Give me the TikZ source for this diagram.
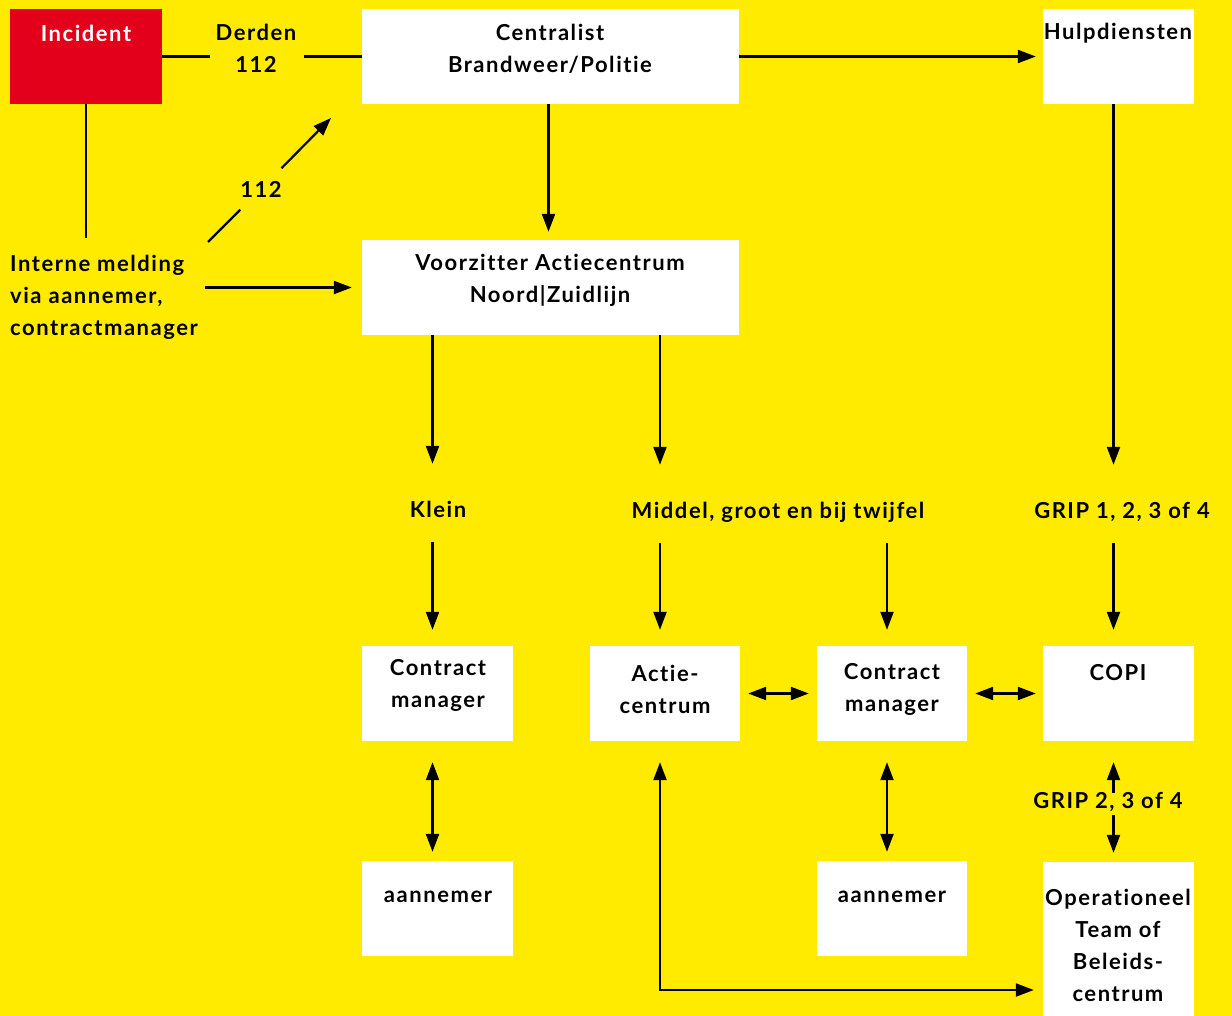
\documentclass[tikz,border=0pt]{standalone}
\usepackage{fontspec}
\setmainfont{Lato}[LetterSpace=7, Ligatures=NoCommon]
\usetikzlibrary{arrows.meta}
\definecolor{geel}{RGB}{255,235,0}
\definecolor{rood}{RGB}{226,0,26}

\begin{document}
\begin{tikzpicture}[x=1pt, y=-1pt, font=\fontsize{22}{32}\selectfont\bfseries,
    vak/.style={fill=white, inner sep=0pt, minimum width=151pt, minimum height=95pt},
    breed/.style={vak, minimum width=377pt},
    tekst/.style={inner sep=0pt, align=center},
    kop/.style={tekst, text height=15pt, text depth=5pt},
    lijn/.style={line width=2.2pt},
    pijl/.style={lijn, -{Triangle[length=18pt,width=13pt]}},
    dubbel/.style={lijn, {Triangle[length=18pt,width=13pt]}-{Triangle[length=18pt,width=13pt]}}]

    % Achtergrond
    \fill[geel] (0,0) rectangle (1232,1016);
    \useasboundingbox (0,0) rectangle (1232,1016);

    % Vakken
    \node[vak, fill=rood, minimum width=152pt] (inc) at (86,56.5) {};
    \node[breed] (cent) at (550.5,56.5) {};
    \node[vak] (hulp) at (1118.5,56.5) {};
    \node[breed] (vz) at (550.5,287.5) {};
    \node[vak] (cmA) at (437.5,693.5) {};
    \node[vak, minimum width=150pt] (ac) at (665,693.5) {};
    \node[vak, minimum width=150pt] (cmB) at (892,693.5) {};
    \node[vak] (copi) at (1118.5,693.5) {};
    \node[vak] (aanA) at (437.5,908.5) {};
    \node[vak, minimum width=150pt] (aanB) at (892,908.5) {};
    \node[vak, minimum height=154pt] (ot) at (1118.5,939) {};

    % Teksten
    \node[tekst, text=white] (incT) at (86,33) {Incident};
    \node[tekst] (derden) at (256,48) {Derden\\112};
    \node[tekst] (centT) at (550,49) {Centralist\\Brandweer/Politie};
    \node[tekst] (hulpT) at (1118,33) {Hulpdiensten};
    \node[tekst, circle, minimum size=58pt] (n112) at (261,189) {112};
    \node[tekst, align=left, anchor=west] (interne) at (10,297) {Interne melding\\via aannemer,\\contractmanager};
    \node[tekst] (vzT) at (550,280) {Voorzitter Actiecentrum\\Noord|Zuidlijn};
    \node[kop] (klein) at (438,512) {Klein};
    \node[kop] (middel) at (778,513) {Middel, groot en bij twijfel};
    \node[kop] (grip) at (1122,513) {GRIP 1, 2, 3 of 4};
    \node[tekst] (cmAT) at (438,685) {Contract\\manager};
    \node[tekst] (acT) at (665,689) {Actie-\\centrum};
    \node[tekst] (cmBT) at (892,689) {Contract\\manager};
    \node[tekst] (copiT) at (1118,673) {COPI};
    \node[kop] (grip2) at (1108,803) {GRIP 2, 3 of 4};
    \node[tekst] (aanAT) at (438,897) {aannemer};
    \node[tekst] (aanBT) at (892,897) {aannemer};
    \node[tekst] (otT) at (1118,945) {Operationeel\\Team of\\Beleids-\\centrum};

    % Melding
    \draw[lijn, shorten >=6pt] (inc.east) -- (inc.east -| derden.west);
    \draw[lijn, shorten <=8pt] (derden.east |- cent.west) -- (cent.west);
    \draw[pijl, shorten >=7pt] (cent.east) -- (hulp.west);
    \draw[pijl, shorten >=8pt] ([xshift=-2pt]cent.south) -- ([xshift=-2pt]vz.north);
    \draw[lijn, shorten >=17pt] (inc.south) -- (inc.south |- interne.north);
    \coordinate (d0) at (208,242);
    \coordinate (d1) at (331,118);
    \draw[lijn] (d0) -- (n112);
    \draw[pijl] (n112) -- (d1);
    \draw[pijl, shorten <=7pt, shorten >=10pt] (interne.east |- vz.west) -- (vz.west);

    % Opschaling
    \draw[pijl, shorten >=38pt] ([xshift=-5pt]vz.south -| cmA) -- ([xshift=-5pt]cmA |- klein.north);
    \draw[pijl, shorten >=38pt] ([xshift=-5pt]vz.south -| ac) -- ([xshift=-5pt]ac |- middel.north);
    \draw[pijl, shorten >=38pt] ([xshift=-5pt]hulp.south) -- ([xshift=-5pt]hulp.south |- grip.north);
    \draw[pijl, shorten <=20pt, shorten >=16pt] ([xshift=-5pt]cmA |- klein.south) -- ([xshift=-5pt]cmA.north);
    \draw[pijl, shorten <=20pt, shorten >=16pt] ([xshift=-5pt]ac |- middel.south) -- ([xshift=-5pt]ac.north);
    \draw[pijl, shorten <=20pt, shorten >=16pt] ([xshift=-5pt]cmB |- middel.south) -- ([xshift=-5pt]cmB.north);
    \draw[pijl, shorten <=20pt, shorten >=16pt] ([xshift=-5pt]copi |- grip.south) -- ([xshift=-5pt]copi.north);

    % Onderling contact
    \draw[dubbel, shorten <=8pt, shorten >=8pt] (ac.east) -- (cmB.west);
    \draw[dubbel, shorten <=8pt, shorten >=7pt] (cmB.east) -- (copi.west);
    \draw[dubbel, shorten <=21pt, shorten >=9pt] ([xshift=-5pt]cmA.south) -- ([xshift=-5pt]aanA.north);
    \draw[dubbel, shorten <=21pt, shorten >=9pt] ([xshift=-5pt]cmB.south) -- ([xshift=-5pt]aanB.north);
    \draw[pijl, shorten >=21pt] ([xshift=-5pt]copi |- grip2.north) -- ([xshift=-5pt]copi.south);
    \draw[pijl, shorten <=2pt, shorten >=9pt] ([xshift=-5pt]copi |- grip2.south) -- ([xshift=-5pt]ot.north);
    \draw[dubbel, shorten <=21pt, shorten >=9pt] ([xshift=-5pt]ac.south) |- ([yshift=-51pt]ot.west);
\end{tikzpicture}
\end{document}
